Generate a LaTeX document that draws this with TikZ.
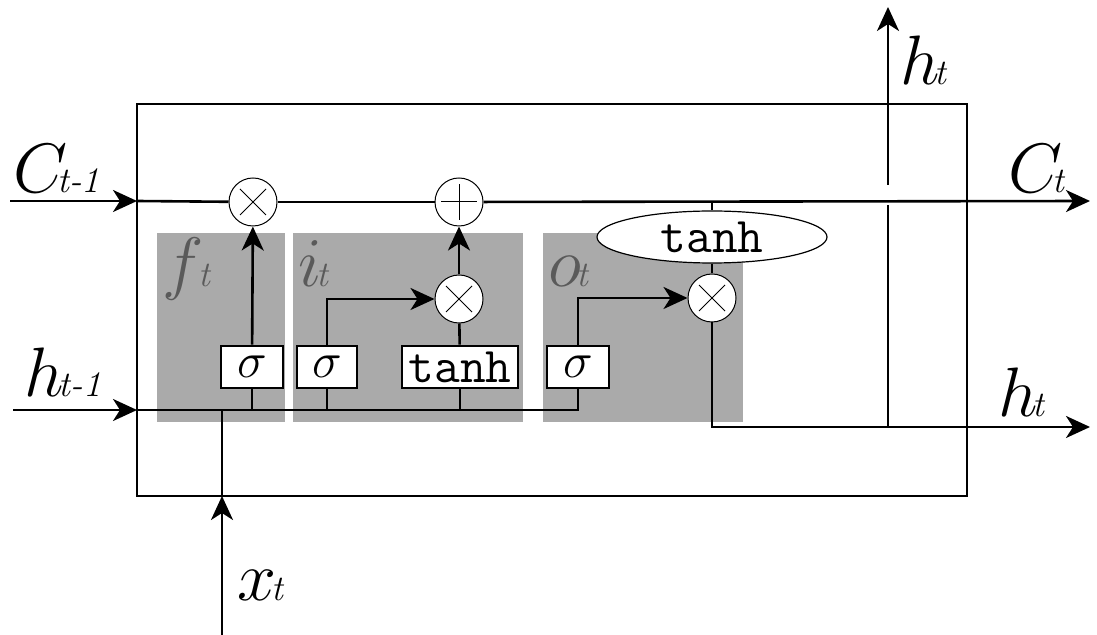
\RequirePackage{fix-cm}
\documentclass[tikz,border=0pt]{standalone}
\usepackage{xcolor}
\usepackage{tikz}
\usetikzlibrary{arrows.meta, positioning, shapes.geometric}
\definecolor{gatefill}{RGB}{170,170,170}
\definecolor{gatetext}{RGB}{90,90,90}
\newcommand{\sublbl}[3][-2.5pt]{$#2$\kern#1{\fontsize{18}{18}\selectfont\textit{#3}}}
\tikzstyle{wire}=[line width=1.3pt]
\tikzstyle{flow}=[wire, -{Stealth[length=12pt, width=11pt, inset=3.5pt]}]
\tikzstyle{op}=[circle, draw, line width=0.5pt, fill=white, inner sep=0pt, minimum size=24pt]
\tikzstyle{times}=[op, path picture={\draw[line width=0.5pt]
	([shift={(-6.5pt,-6.5pt)}]path picture bounding box.center) -- ([shift={(6.5pt,6.5pt)}]path picture bounding box.center)
	([shift={(-6.5pt,6.5pt)}]path picture bounding box.center) -- ([shift={(6.5pt,-6.5pt)}]path picture bounding box.center);}]
\tikzstyle{plus}=[op, path picture={\draw[line width=0.5pt]
	([xshift=-9pt]path picture bounding box.center) -- ([xshift=9pt]path picture bounding box.center)
	([yshift=-9pt]path picture bounding box.center) -- ([yshift=9pt]path picture bounding box.center);}]
\tikzstyle{act}=[draw, line width=1.3pt, fill=white, inner sep=0pt, minimum height=21pt, font=\fontsize{25}{25}\selectfont]
\tikzstyle{squash}=[ellipse, draw, line width=0.6pt, fill=white, inner sep=0pt, minimum width=115pt, minimum height=26pt, font=\ttfamily\fontsize{25}{25}\selectfont]
\tikzstyle{iolabel}=[inner sep=0pt, anchor=base west, font=\fontsize{35}{35}\selectfont]
\tikzstyle{gatelabel}=[iolabel, text=gatetext]

\begin{document}
\begin{tikzpicture}[x=0.5pt, y=-0.5pt]
		\useasboundingbox (0,0) rectangle (1097,635);
		% gate areas
		\foreach \x/\w/\g in {157/128/f, 293/230/i, 543/200/o}{
			\fill[gatefill] (\x,233) rectangle ++(\w,189);
			\node[gatelabel] (lbl\g) at (\x+5,287) {\sublbl{\g}{t}};
		}
		% cell
		\draw[line width=1pt] (137,104) rectangle (967,496);
		\coordinate (cin) at (10,201);
		\coordinate (cleft) at (137,201);
		\coordinate (cout) at (1090,201);
		\coordinate (ctap) at (712,201);
		\coordinate (hin) at (13,410);
		\coordinate (hleft) at (137,410);
		\coordinate (xin) at (222,635);
		\coordinate (xbot) at (222,496);
		\coordinate (xjoin) at (222,410);
		\coordinate (hout) at (1090,427);
		\coordinate (hsplit) at (888,427);
		\coordinate (hgapbot) at (888,205);
		\coordinate (hgaptop) at (888,185);
		\coordinate (hup) at (888,7);
		% operations
		\node[times] (mf) at (253,202) {};
		\node[plus] (add) at (459,202) {};
		\node[times] (mi) at (459,299) {};
		\node[times] (mo) at (712,298) {};
		\node[squash] (tc) at (712,237) {tanh};
		\node[act, minimum width=31pt] (sf) at (252,367) {$\sigma$};
		\node[act, minimum width=30pt] (si) at (327,367) {$\sigma$};
		\node[act, minimum width=58pt, font=\ttfamily\fontsize{25}{25}\selectfont] (ti) at (460,367) {tanh};
		\node[act, minimum width=31pt] (so) at (578,367) {$\sigma$};
		% cell state
		\draw[flow] (cin) -- (cleft);
		\draw[wire] (cleft) -- (mf);
		\draw[wire] (mf) -- (add);
		\draw[flow] (add) -- (cout);
		\draw[wire] (ctap) -- (tc);
		\draw[wire] (tc) -- (mo);
		% gates
		\draw[flow] (hin) -- (hleft);
		\draw[wire] (hleft) -| (so);
		\foreach \n in {sf, si, ti}
			\draw[wire] (\n) -- (\n |- hleft);
		\draw[flow] (xin) -- (xbot);
		\draw[wire] (xbot) -- (xjoin);
		\draw[flow] (sf) -- (mf);
		\draw[flow] (si) |- (mi);
		\draw[wire] (ti) -- (mi);
		\draw[flow] (mi) -- (add);
		\draw[flow] (so) |- (mo);
		% output
		\draw[flow] (mo) |- (hout);
		\draw[wire] (hsplit) -- (hgapbot);
		\draw[flow] (hgaptop) -- (hup);
		% labels
		\node[iolabel] (lcin) at (13,193) {\sublbl[-5pt]{C}{t-1}};
		\node[iolabel] (lhin) at (24,397) {\sublbl{h}{t-1}};
		\node[iolabel] (lcout) at (1008,193) {\sublbl[-5pt]{C}{t}};
		\node[iolabel] (lhout) at (998,417) {\sublbl{h}{t}};
		\node[iolabel] (lhup) at (900,85) {\sublbl{h}{t}};
		\node[iolabel] (lxin) at (237,600) {\sublbl{x}{t}};
	\end{tikzpicture}
\end{document}
